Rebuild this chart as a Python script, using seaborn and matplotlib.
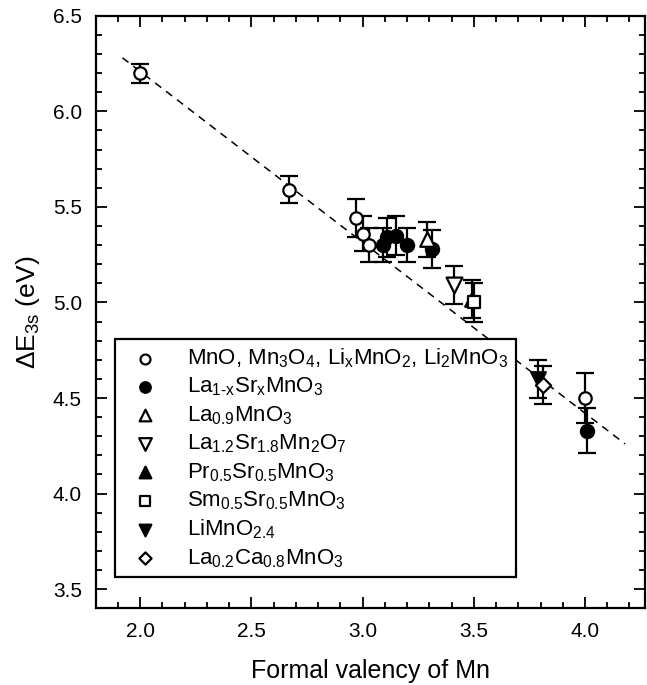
import pandas as pd
import matplotlib
matplotlib.use('Agg')
import matplotlib.pyplot as plt
import seaborn as sns
from matplotlib.ticker import MultipleLocator

# data
groups = ['MnO, Mn$_3$O$_4$, Li$_x$MnO$_2$, Li$_2$MnO$_3$',
          'La$_{1\u2010x}$Sr$_x$MnO$_3$',
          'La$_{0.9}$MnO$_3$',
          'La$_{1.2}$Sr$_{1.8}$Mn$_2$O$_7$',
          'Pr$_{0.5}$Sr$_{0.5}$MnO$_3$',
          'Sm$_{0.5}$Sr$_{0.5}$MnO$_3$',
          'LiMnO$_{2.4}$',
          'La$_{0.2}$Ca$_{0.8}$MnO$_3$']
markers = ['o', 'o', '^', 'v', '^', 's', 'v', 'D']
filled = [False, True, False, False, True, False, True, False]
msize = [80, 90, 110, 130, 110, 80, 110, 60]

valency = [[2.0, 2.67, 2.97, 3.0, 3.03, 4.0],
           [3.09, 3.11, 3.15, 3.20, 3.31, 4.01],
           [3.29],
           [3.41],
           [3.49],
           [3.50],
           [3.79],
           [3.81]]
dE = [[6.20, 5.59, 5.44, 5.36, 5.30, 4.50],
      [5.30, 5.34, 5.35, 5.30, 5.28, 4.33],
      [5.33],
      [5.09],
      [5.02],
      [5.00],
      [4.60],
      [4.57]]
err = [[0.05, 0.07, 0.10, 0.09, 0.09, 0.13],
       [0.09, 0.10, 0.10, 0.09, 0.10, 0.12],
       [0.09],
       [0.10],
       [0.10],
       [0.10],
       [0.10],
       [0.10]]

fit_x = [1.92, 4.18]
fit_y = [6.28, 4.26]

rows = []
for g, xs, ys, es in zip(groups, valency, dE, err):
    for x, y, e in zip(xs, ys, es):
        rows.append({'group': g, 'x': x, 'y': y, 'err': e})
df = pd.DataFrame(rows)

sns.set_style('ticks')
plt.rcParams['font.family'] = ['Liberation Sans', 'DejaVu Sans']
plt.rcParams['mathtext.default'] = 'regular'
plt.rcParams['text.color'] = 'black'
plt.rcParams['axes.labelcolor'] = 'black'
plt.rcParams['xtick.color'] = 'black'
plt.rcParams['ytick.color'] = 'black'
plt.rcParams['axes.edgecolor'] = 'black'

fig = plt.figure(figsize=(6.47, 6.85), dpi=100)
ax = fig.add_axes([0.148, 0.112, 0.849, 0.865])

sns.lineplot(x=fit_x, y=fit_y, ax=ax, color='black', linestyle=(0, (5, 4)),
             linewidth=1.1, zorder=1)

for g, m, f, s in zip(groups, markers, filled, msize):
    d = df[df['group'] == g]
    ax.errorbar(d['x'], d['y'], yerr=d['err'], fmt='none', ecolor='black',
                elinewidth=1.6, capsize=6.5, capthick=1.6, zorder=2)
    sns.scatterplot(x=d['x'], y=d['y'], ax=ax, marker=m, s=s,
                    color='black' if f else 'white', edgecolor='black',
                    linewidth=1.6, label=g, zorder=3)

ax.set_xlim(1.8, 4.27)
ax.set_ylim(3.4, 6.5)
ax.xaxis.set_major_locator(MultipleLocator(0.5))
ax.xaxis.set_minor_locator(MultipleLocator(0.1))
ax.yaxis.set_major_locator(MultipleLocator(0.5))
ax.yaxis.set_minor_locator(MultipleLocator(0.1))
ax.tick_params(which='both', direction='in', top=True, right=True, width=1.3)
ax.tick_params(which='major', length=8, labelsize=15, pad=10)
ax.tick_params(which='minor', length=4)
for sp in ax.spines.values():
    sp.set_linewidth(1.6)
    sp.set_visible(True)

ax.set_xlabel('Formal valency of Mn', fontsize=18, labelpad=13)
ax.set_ylabel(r'$\Delta$E$_{3s}$ (eV)', fontsize=19, labelpad=8)

leg = ax.legend(loc='lower left', bbox_to_anchor=(0.035, 0.052), fontsize=16,
                frameon=True, fancybox=False, edgecolor='black',
                borderaxespad=0, handletextpad=0.9, labelspacing=0.26,
                borderpad=0.35, markerscale=0.8)
leg.get_frame().set_linewidth(1.6)
leg.get_frame().set_alpha(1)

fig.savefig('out.png', dpi=100)
